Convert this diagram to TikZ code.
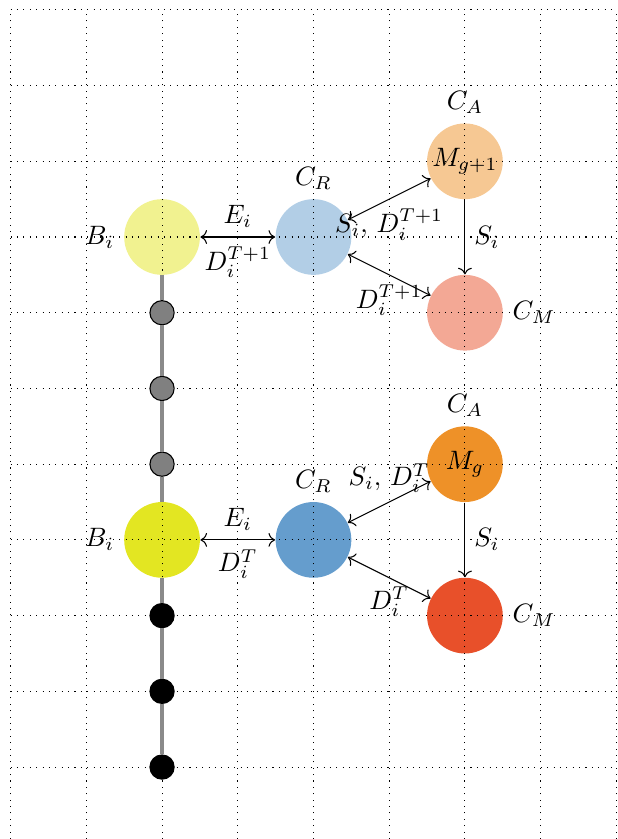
\documentclass[tikz,border=0pt]{standalone}
\usepackage{amsmath,amssymb}
\usepackage{xcolor}
\usepackage{tikz}
\usetikzlibrary{arrows.meta, positioning, calc}
\definecolor{bnyellow}{HTML}{E3E622}
\definecolor{crblue}{HTML}{659DCD}
\definecolor{caorange}{HTML}{EE9128}
\definecolor{cmred}{HTML}{E8502A}
\definecolor{linkgray}{HTML}{8A8A8A}

\tikzset{
  bigcirc/.style={circle, minimum size=1cm, inner sep=0pt},
  smalldot/.style={circle, draw=black, minimum size=0.32cm, inner sep=0pt},
  linkline/.style={draw=linkgray, line width=1.4pt},
  flow/.style={<->}
}

\begin{document}
\begin{tikzpicture}[x=1cm, y=1cm]
\useasboundingbox (-2.14,-7.95) rectangle (6.02,3.13);

% upper layer (next step)
\node[bigcirc, fill=bnyellow!50, label=left:$B_i$] (Bup) at (0,0) {};
\node[bigcirc, fill=crblue!50, label=above:$C_R$] (CRup) at (2,0) {};
\node[bigcirc, fill=caorange!50, label=above:$C_A$] (Mup) at (4,1) {$M_{g+1}$};
\node[bigcirc, fill=cmred!50, label=right:$C_M$] (CMup) at (4,-1) {};

% lower layer (current step)
\node[bigcirc, fill=bnyellow, label=left:$B_i$] (Blo) at (0,-4) {};
\node[bigcirc, fill=crblue, label=above:$C_R$] (CRlo) at (2,-4) {};
\node[bigcirc, fill=caorange, label=above:$C_A$] (Mlo) at (4,-3) {$M_g$};
\node[bigcirc, fill=cmred, label=right:$C_M$] (CMlo) at (4,-5) {};

% grid
\draw[dotted] (-2,-7.95) grid (6,3);

% chain of blocks
\node[smalldot, fill=gray] (g1) at (0,-1) {};
\node[smalldot, fill=gray] (g2) at (0,-2) {};
\node[smalldot, fill=gray] (g3) at (0,-3) {};
\node[smalldot, fill=black] (k1) at (0,-5) {};
\node[smalldot, fill=black] (k2) at (0,-6) {};
\node[smalldot, fill=black] (k3) at (0,-7) {};
\draw[linkline] (Bup) -- (g1) -- (g2) -- (g3) -- (Blo) -- (k1) -- (k2) -- (k3);

% upper messages
\draw[flow] (Bup) -- node[above] {$E_i$} node[below] {$D_i^{T+1}$} (CRup);
\draw[flow] (CRup) -- node[below] {$S_i,\,D_i^{T+1}$} (Mup);
\draw[flow] (CRup) -- node[below] {$D_i^{T+1}$} (CMup);
\draw[->] (Mup) -- node[right] {$S_i$} (CMup);

% lower messages
\draw[flow] (Blo) -- node[above] {$E_i$} node[below] {$D_i^{T}$} (CRlo);
\draw[flow] (CRlo) -- node[above] {$S_i,\,D_i^{T}$} (Mlo);
\draw[flow] (CRlo) -- node[below] {$D_i^{T}$} (CMlo);
\draw[->] (Mlo) -- node[right] {$S_i$} (CMlo);
\end{tikzpicture}
\end{document}
